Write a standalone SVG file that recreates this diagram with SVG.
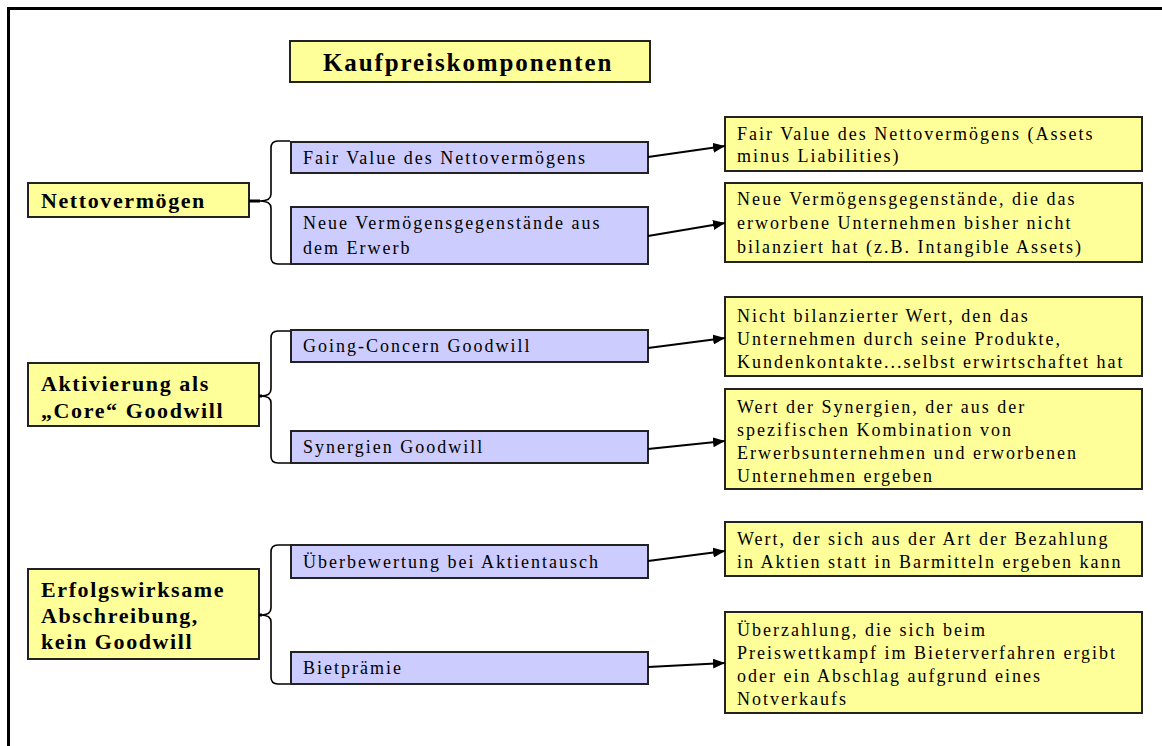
<svg xmlns="http://www.w3.org/2000/svg" width="1162" height="746" viewBox="0 0 1162 746">
<style>
.frame{fill:none;stroke:#000;stroke-width:3}
.y{fill:#FFFF99;stroke:#222;stroke-width:2}
.b{fill:#CCCCFF;stroke:#222;stroke-width:2}
.hd{font-family:"Liberation Serif","Times New Roman",serif;font-weight:bold;font-size:22px;letter-spacing:1.6px;fill:#000}
.tt{font-family:"Liberation Serif","Times New Roman",serif;font-weight:bold;font-size:25px;letter-spacing:1.9px;fill:#000}
.t{font-family:"Liberation Serif","Times New Roman",serif;font-size:18px;letter-spacing:2px;fill:#000}
.br{fill:none;stroke:#000;stroke-width:1.6}
.stub{stroke:#000;stroke-width:3}
.ar{stroke:#000;stroke-width:2;fill:none;marker-end:url(#ah)}
</style>
<defs>
<marker id="ah" viewBox="0 0 12 10" refX="12" refY="5" markerWidth="12" markerHeight="10" markerUnits="userSpaceOnUse" orient="auto">
<path d="M0,0 L12,5 L0,10 z" fill="#000"/>
</marker>
</defs>
<rect class="frame" x="8.5" y="8.5" width="1170" height="760"/>

<g id="title">
<rect class="y" x="290" y="41" width="360" height="41"/>
<text class="tt" x="323" y="71">Kaufpreiskomponenten</text>
</g>

<g id="n-netto">
<rect class="y" x="28" y="183" width="221" height="34"/>
<text class="hd" x="41" y="208">Nettovermögen</text>
</g>
<g id="n-aktiv">
<rect class="y" x="28" y="363" width="231" height="63"/>
<text class="hd" x="41" y="391">Aktivierung als</text>
<text class="hd" x="41" y="418">„Core“ Goodwill</text>
</g>
<g id="n-erfolg">
<rect class="y" x="28" y="569" width="231" height="90"/>
<text class="hd" x="41" y="597">Erfolgswirksame</text>
<text class="hd" x="41" y="623">Abschreibung,</text>
<text class="hd" x="41" y="649">kein Goodwill</text>
</g>

<g id="m-fair">
<rect class="b" x="291" y="142" width="357" height="31"/>
<text class="t" x="303" y="164">Fair Value des Nettovermögens</text>
</g>
<g id="m-neue">
<rect class="b" x="291" y="207" width="357" height="57"/>
<text class="t" x="303" y="229">Neue Vermögensgegenstände aus</text>
<text class="t" x="303" y="254">dem Erwerb</text>
</g>
<g id="m-going">
<rect class="b" x="291" y="330" width="357" height="32"/>
<text class="t" x="303" y="352">Going-Concern Goodwill</text>
</g>
<g id="m-syn">
<rect class="b" x="291" y="431" width="357" height="32"/>
<text class="t" x="303" y="453">Synergien Goodwill</text>
</g>
<g id="m-ueber">
<rect class="b" x="291" y="545" width="357" height="33"/>
<text class="t" x="303" y="568">Überbewertung bei Aktientausch</text>
</g>
<g id="m-biet">
<rect class="b" x="291" y="652" width="357" height="32"/>
<text class="t" x="303" y="674">Bietprämie</text>
</g>

<g id="r-fair">
<rect class="y" x="725" y="117" width="417" height="54"/>
<text class="t" x="737" y="140">Fair Value des Nettovermögens (Assets</text>
<text class="t" x="737" y="162">minus Liabilities)</text>
</g>
<g id="r-neue">
<rect class="y" x="725" y="183" width="417" height="79"/>
<text class="t" x="737" y="205">Neue Vermögensgegenstände, die das</text>
<text class="t" x="737" y="229">erworbene Unternehmen bisher nicht</text>
<text class="t" x="737" y="253">bilanziert hat (z.B. Intangible Assets)</text>
</g>
<g id="r-going">
<rect class="y" x="725" y="297" width="417" height="79"/>
<text class="t" x="737" y="322">Nicht bilanzierter Wert, den das</text>
<text class="t" x="737" y="345">Unternehmen durch seine Produkte,</text>
<text class="t" x="737" y="368">Kundenkontakte...selbst erwirtschaftet hat</text>
</g>
<g id="r-syn">
<rect class="y" x="725" y="389" width="417" height="100"/>
<text class="t" x="737" y="413">Wert der Synergien, der aus der</text>
<text class="t" x="737" y="436">spezifischen Kombination von</text>
<text class="t" x="737" y="459">Erwerbsunternehmen und erworbenen</text>
<text class="t" x="737" y="482">Unternehmen ergeben</text>
</g>
<g id="r-ueber">
<rect class="y" x="725" y="522" width="417" height="54"/>
<text class="t" x="737" y="545">Wert, der sich aus der Art der Bezahlung</text>
<text class="t" x="737" y="568">in Aktien statt in Barmitteln ergeben kann</text>
</g>
<g id="r-biet">
<rect class="y" x="725" y="612" width="417" height="101"/>
<text class="t" x="737" y="636">Überzahlung, die sich beim</text>
<text class="t" x="737" y="659">Preiswettkampf im Bieterverfahren ergibt</text>
<text class="t" x="737" y="682">oder ein Abschlag aufgrund eines</text>
<text class="t" x="737" y="705">Notverkaufs</text>
</g>

<g id="connectors">
<line class="stub" x1="249" y1="201" x2="260" y2="201"/>
<path class="br" d="M290,141 L278,141 Q271,141 271,148 L271,194 Q271,201 260,201 Q271,201 271,208 L271,257 Q271,264 278,264 L290,264"/>
<line class="stub" x1="259" y1="396" x2="262" y2="396"/>
<path class="br" d="M290,331 L278,331 Q271,331 271,338 L271,389 Q271,396 261,396 Q271,396 271,403 L271,456 Q271,463 278,463 L290,463"/>
<line class="stub" x1="259" y1="615" x2="262" y2="615"/>
<path class="br" d="M290,545 L278,545 Q271,545 271,552 L271,608 Q271,615 261,615 Q271,615 271,622 L271,677 Q271,684 278,684 L290,684"/>

<line class="ar" x1="648" y1="157" x2="725" y2="146"/>
<line class="ar" x1="648" y1="236" x2="725" y2="223"/>
<line class="ar" x1="648" y1="348" x2="725" y2="338"/>
<line class="ar" x1="648" y1="449" x2="725" y2="441"/>
<line class="ar" x1="648" y1="561" x2="725" y2="551"/>
<line class="ar" x1="648" y1="667" x2="725" y2="663"/>
</g>
</svg>
